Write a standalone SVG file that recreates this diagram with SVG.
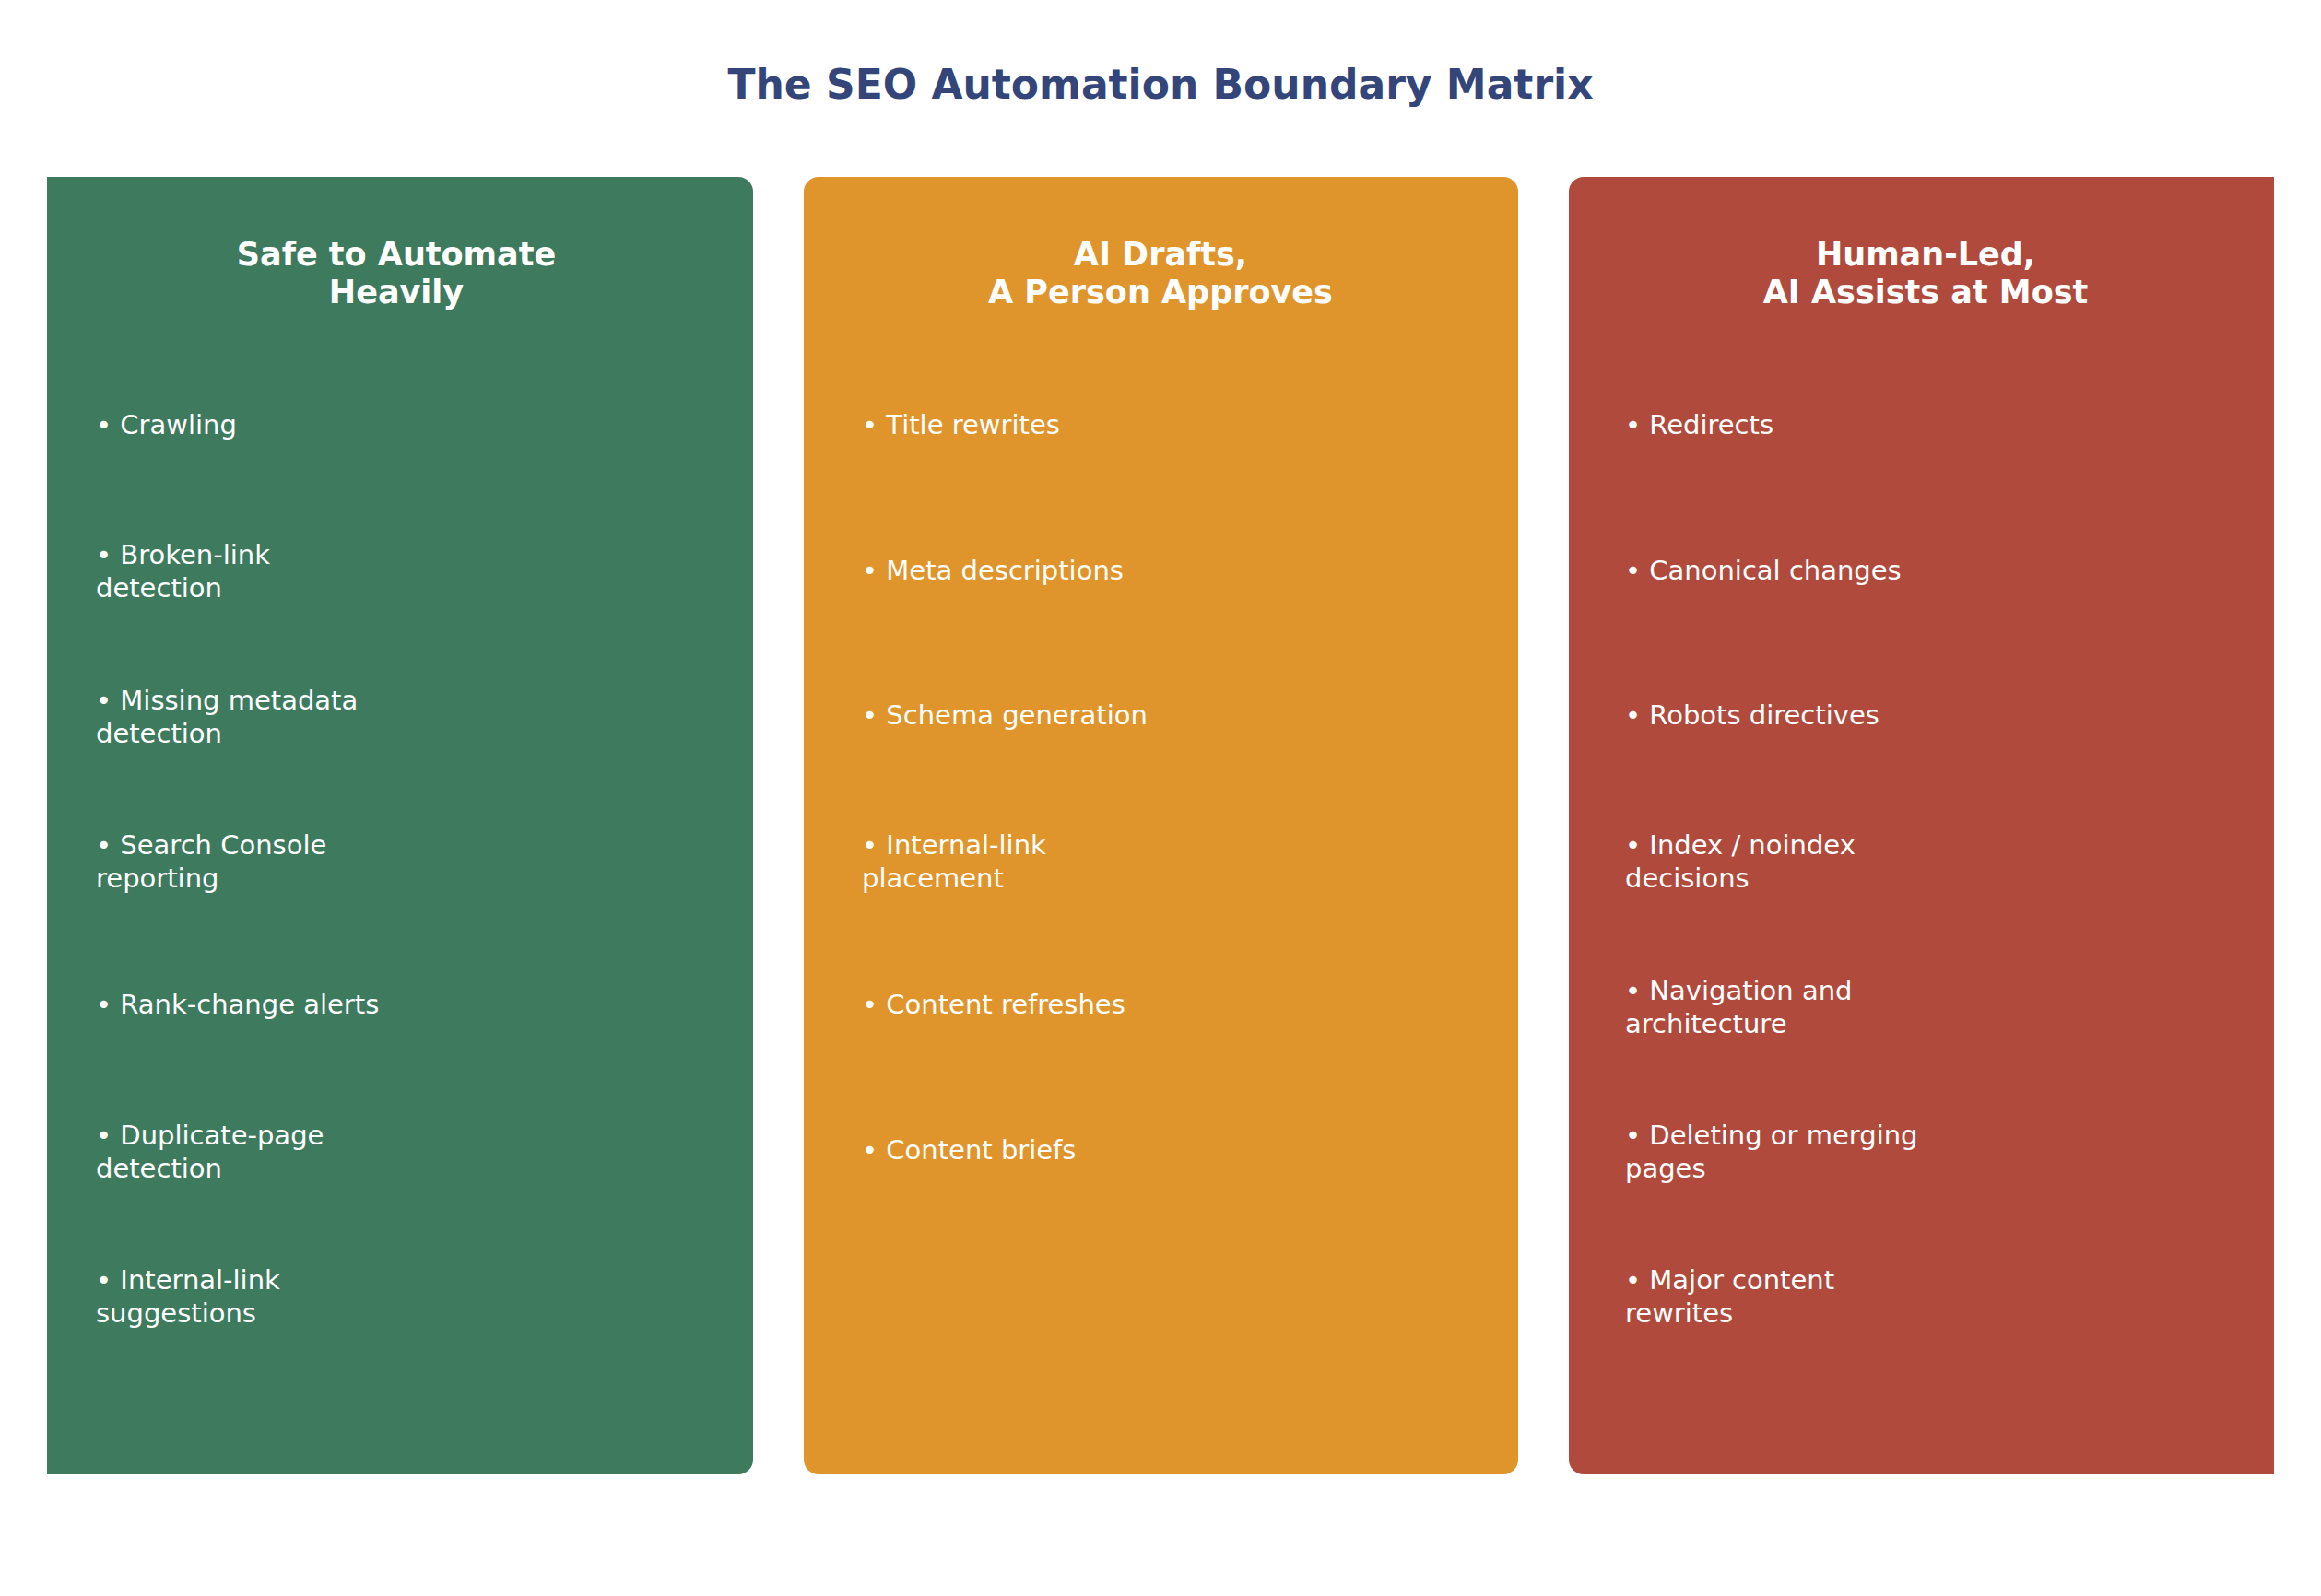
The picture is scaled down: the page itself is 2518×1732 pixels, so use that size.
<svg xmlns="http://www.w3.org/2000/svg" width="2518" height="1732" viewBox="0 0 2518 1732">
<style>
.t{font-family:"DejaVu Sans",sans-serif;font-weight:bold;font-size:44px;fill:#34457a;text-anchor:middle}
.h{font-family:"DejaVu Sans",sans-serif;font-weight:bold;font-size:35px;fill:#fff;text-anchor:middle}
.b{font-family:"DejaVu Sans",sans-serif;font-size:29px;fill:#fff}
</style>
<defs><clipPath id="c"><rect x="51" y="0" width="2416" height="1732"/></clipPath></defs>
<rect width="2518" height="1732" fill="#fff"/>
<text class="t" x="1259" y="107">The SEO Automation Boundary Matrix</text>
<g clip-path="url(#c)">
<g id="safe">
<rect x="34" y="192" width="783" height="1408" rx="16" fill="#3e7a5e"/>
<text class="h" x="430" y="288">Safe to Automate</text>
<text class="h" x="430" y="329">Heavily</text>
<text class="b" x="104" y="471">•  Crawling</text>
<text class="b" x="104" y="612">•  Broken-link</text><text class="b" x="104" y="648">detection</text>
<text class="b" x="104" y="770">•  Missing metadata</text><text class="b" x="104" y="806">detection</text>
<text class="b" x="104" y="927">•  Search Console</text><text class="b" x="104" y="963">reporting</text>
<text class="b" x="104" y="1100">•  Rank-change alerts</text>
<text class="b" x="104" y="1242">•  Duplicate-page</text><text class="b" x="104" y="1278">detection</text>
<text class="b" x="104" y="1399">•  Internal-link</text><text class="b" x="104" y="1435">suggestions</text>
</g>
<g id="drafts">
<rect x="872" y="192" width="775" height="1408" rx="16" fill="#df952c"/>
<text class="h" x="1259" y="288">AI Drafts,</text>
<text class="h" x="1259" y="329">A Person Approves</text>
<text class="b" x="935" y="471">•  Title rewrites</text>
<text class="b" x="935" y="629">•  Meta descriptions</text>
<text class="b" x="935" y="786">•  Schema generation</text>
<text class="b" x="935" y="927">•  Internal-link</text><text class="b" x="935" y="963">placement</text>
<text class="b" x="935" y="1100">•  Content refreshes</text>
<text class="b" x="935" y="1258">•  Content briefs</text>
</g>
<g id="human">
<rect x="1702" y="192" width="790" height="1408" rx="16" fill="#b04a3d"/>
<text class="h" x="2089" y="288">Human-Led,</text>
<text class="h" x="2089" y="329">AI Assists at Most</text>
<text class="b" x="1763" y="471">•  Redirects</text>
<text class="b" x="1763" y="629">•  Canonical changes</text>
<text class="b" x="1763" y="786">•  Robots directives</text>
<text class="b" x="1763" y="927">•  Index / noindex</text><text class="b" x="1763" y="963">decisions</text>
<text class="b" x="1763" y="1085">•  Navigation and</text><text class="b" x="1763" y="1121">architecture</text>
<text class="b" x="1763" y="1242">•  Deleting or merging</text><text class="b" x="1763" y="1278">pages</text>
<text class="b" x="1763" y="1399">•  Major content</text><text class="b" x="1763" y="1435">rewrites</text>
</g>
</g>
<g id="connectors"/>
</svg>
